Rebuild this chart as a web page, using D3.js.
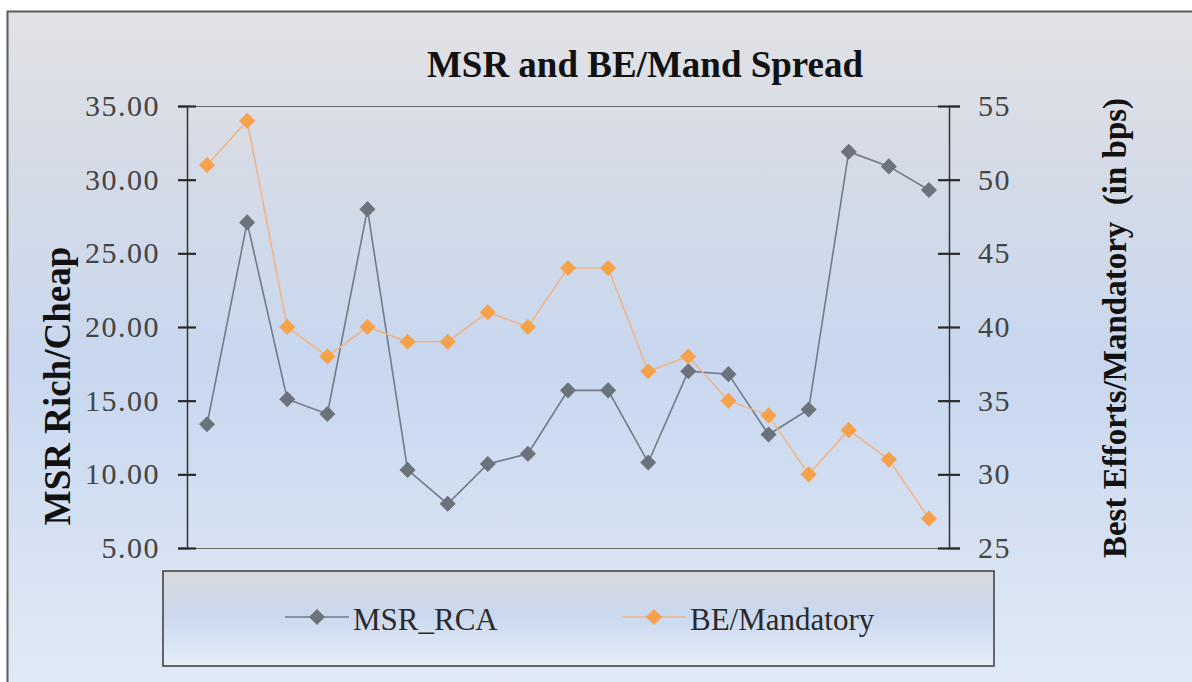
<!DOCTYPE html>
<html>
<head>
<meta charset="utf-8">
<script src="https://cdn.jsdelivr.net/npm/d3@7"></script>
<style>
    html, body { margin: 0; padding: 0; background: #ffffff; }
    svg { display: block; }
    text { font-family: "Liberation Serif", "Times New Roman", serif; }
</style>
</head>
<body>
<div id="chart"></div>
<script>
(function () {
    "use strict";

    // one point per period, the periods carry no labels in the picture
    const periods = [1, 2, 3, 4, 5, 6, 7, 8, 9, 10, 11, 12, 13, 14, 15, 16, 17, 18, 19];
    const msrRca = [13.4, 27.1, 15.1, 14.1, 28.0, 10.3, 8.0, 10.7, 11.4, 15.7, 15.7, 10.8, 17.0, 16.8, 12.7, 14.4, 31.9, 30.9, 29.3];
    const beMandatory = [51, 54, 40, 38, 40, 39, 39, 41, 40, 44, 44, 37, 38, 35, 34, 30, 33, 31, 27];
    const leftTicks = [5, 10, 15, 20, 25, 30, 35];
    const rightTicks = [25, 30, 35, 40, 45, 50, 55];
    const seriesNames = ["MSR_RCA", "BE/Mandatory"];

    const width = 1192;
    const height = 682;
    const margin = { top: 106, right: 243, bottom: 134, left: 187 };

    const svg = d3.select("#chart").append("svg")
        .attr("width", width)
        .attr("height", height);

    const defs = svg.append("defs");

    const bg = defs.append("linearGradient")
        .attr("id", "bg-grad")
        .attr("x1", 0).attr("y1", 0).attr("x2", 0).attr("y2", 1);
    bg.append("stop").attr("offset", "0%").attr("stop-color", "#e1e2e5");
    bg.append("stop").attr("offset", "18%").attr("stop-color", "#d7dce5");
    bg.append("stop").attr("offset", "50%").attr("stop-color", "#c8d7ef");
    bg.append("stop").attr("offset", "100%").attr("stop-color", "#e3ebf6");

    const lg = defs.append("linearGradient")
        .attr("id", "legend-grad")
        .attr("x1", 0).attr("y1", 0).attr("x2", 0).attr("y2", 1);
    lg.append("stop").attr("offset", "0%").attr("stop-color", "#d9d9db");
    lg.append("stop").attr("offset", "45%").attr("stop-color", "#cad8ee");
    lg.append("stop").attr("offset", "100%").attr("stop-color", "#e6edf8");

    // chart area with its frame (right and bottom edges run off the picture)
    svg.append("rect")
        .attr("x", 7.5)
        .attr("y", 11.5)
        .attr("width", width + 20)
        .attr("height", height + 20)
        .attr("fill", "url(#bg-grad)")
        .attr("stroke", "#5a5a5a")
        .attr("stroke-width", 2);

    const plotRight = width - margin.right;
    const plotBottom = height - margin.bottom;

    const xScale = d3.scalePoint()
        .domain(periods)
        .range([margin.left, plotRight])
        .padding(0.5);

    const yLeft = d3.scaleLinear()
        .domain([5, 35])
        .range([plotBottom, margin.top]);

    const yRight = d3.scaleLinear()
        .domain([25, 55])
        .range([plotBottom, margin.top]);

    // top edge of the plot
    svg.append("line")
        .attr("x1", margin.left)
        .attr("x2", plotRight + 11)
        .attr("y1", margin.top + 0.5)
        .attr("y2", margin.top + 0.5)
        .attr("stroke", "#6a6a6a")
        .attr("stroke-width", 1.2);

    // bottom edge of the plot
    svg.append("line")
        .attr("x1", margin.left - 9)
        .attr("x2", plotRight)
        .attr("y1", plotBottom + 0.5)
        .attr("y2", plotBottom + 0.5)
        .attr("stroke", "#6a6a6a")
        .attr("stroke-width", 1.2);

    const leftAxis = d3.axisLeft(yLeft)
        .tickValues(leftTicks)
        .tickSize(9)
        .tickPadding(18)
        .tickFormat(d3.format(".2f"));

    const rightAxis = d3.axisRight(yRight)
        .tickValues(rightTicks)
        .tickSize(11)
        .tickPadding(18)
        .tickFormat(d3.format("d"));

    const gLeft = svg.append("g")
        .attr("transform", `translate(${margin.left},0)`)
        .call(leftAxis);

    const gRight = svg.append("g")
        .attr("transform", `translate(${plotRight},0)`)
        .call(rightAxis);

    // cross-type tick marks, as the original has
    gLeft.selectAll(".tick line").attr("x2", -9).attr("x1", 9);
    gRight.selectAll(".tick line").attr("x2", 11).attr("x1", -11);

    for (const g of [gLeft, gRight]) {
        g.select(".domain")
            .attr("stroke", "#333")
            .attr("stroke-width", 1.5);
        g.selectAll(".tick line")
            .attr("stroke", "#2a2a2a")
            .attr("stroke-width", 2.2);
        g.selectAll(".tick text")
            .attr("fill", "#444")
            .attr("font-size", 30)
            .attr("letter-spacing", 1.5)
            .attr("font-family", "Liberation Serif, Times New Roman, serif");
    }

    const diamond = d3.symbol(d3.symbolDiamond2, 165);

    const series = [
        { name: seriesNames[0], values: msrRca, scale: yLeft, line: "#717b86", mark: "#6b727b" },
        { name: seriesNames[1], values: beMandatory, scale: yRight, line: "#f1b487", mark: "#f6a24a" }
    ];

    for (const s of series) {
        const generator = d3.line()
            .x((d, i) => xScale(periods[i]))
            .y(d => s.scale(d));

        svg.append("path")
            .attr("d", generator(s.values))
            .attr("fill", "none")
            .attr("stroke", s.line)
            .attr("stroke-width", 1.6);

        svg.append("g")
            .selectAll("path")
            .data(s.values)
            .join("path")
            .attr("d", diamond)
            .attr("transform", (d, i) => `translate(${xScale(periods[i])},${s.scale(d)})`)
            .attr("fill", s.mark);
    }

    // title
    svg.append("text")
        .attr("x", 645)
        .attr("y", 77)
        .attr("text-anchor", "middle")
        .attr("font-size", 37)
        .attr("font-weight", "bold")
        .attr("fill", "#111")
        .text("MSR and BE/Mand Spread");

    svg.append("text")
        .attr("transform", "translate(70,386) rotate(-90)")
        .attr("text-anchor", "middle")
        .attr("font-size", 37)
        .attr("font-weight", "bold")
        .attr("fill", "#111")
        .text("MSR Rich/Cheap");

    svg.append("text")
        .attr("transform", "translate(1126,328) rotate(-90)")
        .attr("text-anchor", "middle")
        .attr("font-size", 33)
        .attr("font-weight", "bold")
        .attr("fill", "#111")
        .style("white-space", "pre")
        .text("Best Efforts/Mandatory  (in bps)");

    // legend
    const legend = svg.append("g");

    legend.append("rect")
        .attr("x", 163)
        .attr("y", 571)
        .attr("width", 831)
        .attr("height", 95)
        .attr("fill", "url(#legend-grad)")
        .attr("stroke", "#444")
        .attr("stroke-width", 1.6);

    const legendX = [285, 622];

    series.forEach((s, i) => {
        const x0 = legendX[i];
        legend.append("line")
            .attr("x1", x0)
            .attr("x2", x0 + 64)
            .attr("y1", 617)
            .attr("y2", 617)
            .attr("stroke", s.line)
            .attr("stroke-width", 1.6);
        legend.append("path")
            .attr("d", diamond)
            .attr("transform", `translate(${x0 + 32},617)`)
            .attr("fill", s.mark);
        legend.append("text")
            .attr("x", x0 + 68)
            .attr("y", 630)
            .attr("font-size", 31)
            .attr("fill", "#2a2a2a")
            .text(s.name);
    });
}());
</script>
</body>
</html>
